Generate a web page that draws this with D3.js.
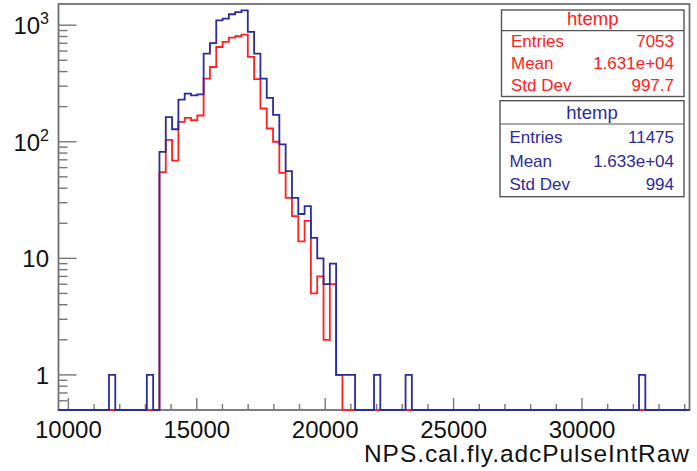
<!DOCTYPE html>
<html lang="en">

<head>
    <meta charset="UTF-8">
    <title>htemp</title>
    <style>
        body { margin: 0; background: #fff; }
        text { font-family: "Liberation Sans", Arial, Helvetica, sans-serif; }
    </style>
</head>

<body>
</body>
<script src="https://cdnjs.cloudflare.com/ajax/libs/d3/7.8.5/d3.min.js" charset="utf-8"></script>
<script>
// histogram binning (100 bins)
var nBins = 100;
var xLow = 9615;
var xHigh = 34185;

// main body of both histograms starts at this bin
var firstBin = 16;
var blueCounts = [82, 163, 128, 230, 259, 250, 255, 571, 703, 1102, 1140, 1241, 1297, 1342,
    875, 571, 348, 238, 170, 95, 56, 33, 24, 28, 15, 10, 6, 9, 1, 1, 1];
var redCounts = [55, 104, 69, 148, 160, 153, 168, 348, 438, 650, 718, 783, 804, 830,
    534, 344, 193, 130, 100, 54, 33, 23, 14, 21, 5, 7, 2, 6, 1];
// isolated single entries of the blue histogram
var blueSingleBins = [8, 14, 50, 55, 92];

var xTicks = [10000, 15000, 20000, 25000, 30000];
var yTicks = [1, 10, 100, 1000];
var yLabels = [['1', ''], ['10', ''], ['10', '2'], ['10', '3']];

var statNames = ['Entries', 'Mean', 'Std Dev'];
var redStats = ['7053', '1.631e+04', '997.7'];
var blueStats = ['11475', '1.633e+04', '994'];

var red = '#ff2020';
var blue = '#2b2b9e';

function fullBins(counts, first, singles) {
    var arr = [];
    for (var i = 0; i < nBins; i++) arr.push(0);
    counts.forEach(function(c, i) { arr[first + i] = c; });
    singles.forEach(function(b) { arr[b] += 1; });
    return arr;
}

var blueHist = fullBins(blueCounts, firstBin, blueSingleBins);
var redHist = fullBins(redCounts, firstBin, []);

var padL = 58.5, padR = 689.5, padT = 4, padB = 410;

var x = d3.scaleLinear().domain([xLow, xHigh]).range([padL, padR]);
var y = d3.scaleLog().domain([0.5, 1520]).range([padB, padT]);
var binW = (xHigh - xLow) / nBins;

var svg = d3.select('body')
    .append('svg')
    .attr('width', 697)
    .attr('height', 471);

svg.append('rect')
    .attr('width', 697)
    .attr('height', 471)
    .attr('fill', '#fff');

// frame
svg.append('rect')
    .attr('x', padL)
    .attr('y', padT)
    .attr('width', padR - padL)
    .attr('height', padB - padT)
    .attr('fill', 'none')
    .attr('stroke', '#707070')
    .attr('stroke-width', 1.8);

// x ticks: major every 5000, minor every 1000
var axisG = svg.append('g').attr('stroke', '#777').attr('stroke-width', 1.4);
d3.range(10000, xHigh, 1000).forEach(function(v) {
    var major = v % 5000 === 0;
    axisG.append('line')
        .attr('x1', x(v)).attr('x2', x(v))
        .attr('y1', padB).attr('y2', padB - (major ? 12 : 6));
});

// y ticks: major at decades, minor at 2..9
var minorY = [];
[0.1, 1, 10, 100, 1000].forEach(function(d) {
    for (var k = 1; k <= 9; k++) {
        var v = +(k * d).toPrecision(3);
        if (v >= 0.5 && v <= 1520) minorY.push(v);
    }
});
minorY.forEach(function(v) {
    var major = yTicks.indexOf(v) >= 0;
    axisG.append('line')
        .attr('x1', padL).attr('x2', padL + (major ? 18 : 9))
        .attr('y1', y(v)).attr('y2', y(v));
});

// histograms
function histPoints(h) {
    var pts = [[x(xLow), padB]];
    h.forEach(function(c, i) {
        var yy = c > 0 ? y(c) : padB;
        pts.push([x(xLow + i * binW), yy]);
        pts.push([x(xLow + (i + 1) * binW), yy]);
    });
    pts.push([x(xHigh), padB]);
    return pts;
}

var line = d3.line();
svg.append('path')
    .attr('d', line(histPoints(redHist)))
    .attr('fill', 'none')
    .attr('stroke', red)
    .attr('stroke-width', 1.8);
svg.append('path')
    .attr('d', line(histPoints(blueHist)))
    .attr('fill', 'none')
    .attr('stroke', blue)
    .attr('stroke-width', 1.8);

// x labels
svg.selectAll('.xlab')
    .data(xTicks)
    .enter()
    .append('text')
    .attr('x', function(d) { return x(d); })
    .attr('y', 438)
    .attr('text-anchor', 'middle')
    .attr('font-size', 24)
    .attr('fill', '#111')
    .text(function(d) { return d; });

svg.append('text')
    .attr('x', 689)
    .attr('y', 462)
    .attr('text-anchor', 'end')
    .attr('font-size', 24.5)
    .attr('textLength', 325)
    .attr('lengthAdjust', 'spacing')
    .attr('fill', '#111')
    .text('NPS.cal.fly.adcPulseIntRaw');

// y labels
yTicks.forEach(function(v, i) {
    var t = svg.append('text')
        .attr('x', 49)
        .attr('y', y(v) + 9)
        .attr('text-anchor', 'end')
        .attr('font-size', 24)
        .attr('fill', '#111');
    t.append('tspan').text(yLabels[i][0]);
    if (yLabels[i][1]) {
        t.append('tspan')
            .attr('font-size', 16)
            .attr('dy', -10)
            .text(yLabels[i][1]);
    }
});

// stats boxes
function statsBox(bx, by, bw, bh, sep, rowY, color, values) {
    var g = svg.append('g');
    g.append('rect')
        .attr('x', bx).attr('y', by)
        .attr('width', bw).attr('height', bh)
        .attr('fill', '#fff')
        .attr('stroke', '#555')
        .attr('stroke-width', 1.4);
    g.append('line')
        .attr('x1', bx).attr('x2', bx + bw)
        .attr('y1', sep).attr('y2', sep)
        .attr('stroke', '#555')
        .attr('stroke-width', 1.2);
    g.append('text')
        .attr('x', bx + bw / 2)
        .attr('y', sep - 5.5)
        .attr('text-anchor', 'middle')
        .attr('font-size', 18.5)
        .attr('fill', color)
        .text('htemp');
    statNames.forEach(function(n, i) {
        g.append('text')
            .attr('x', bx + 9.5)
            .attr('y', rowY[i])
            .attr('font-size', 17)
            .attr('fill', color)
            .text(n);
        g.append('text')
            .attr('x', 674)
            .attr('y', rowY[i])
            .attr('text-anchor', 'end')
            .attr('font-size', 17)
            .attr('fill', color)
            .text(values[i]);
    });
}

statsBox(501.5, 10, 182.5, 86.5, 30.7, [47.3, 69.3, 90.7], red, redStats);
statsBox(500, 100.7, 184, 96, 124, [142.7, 166.7, 190], blue, blueStats);
</script>

</html>
